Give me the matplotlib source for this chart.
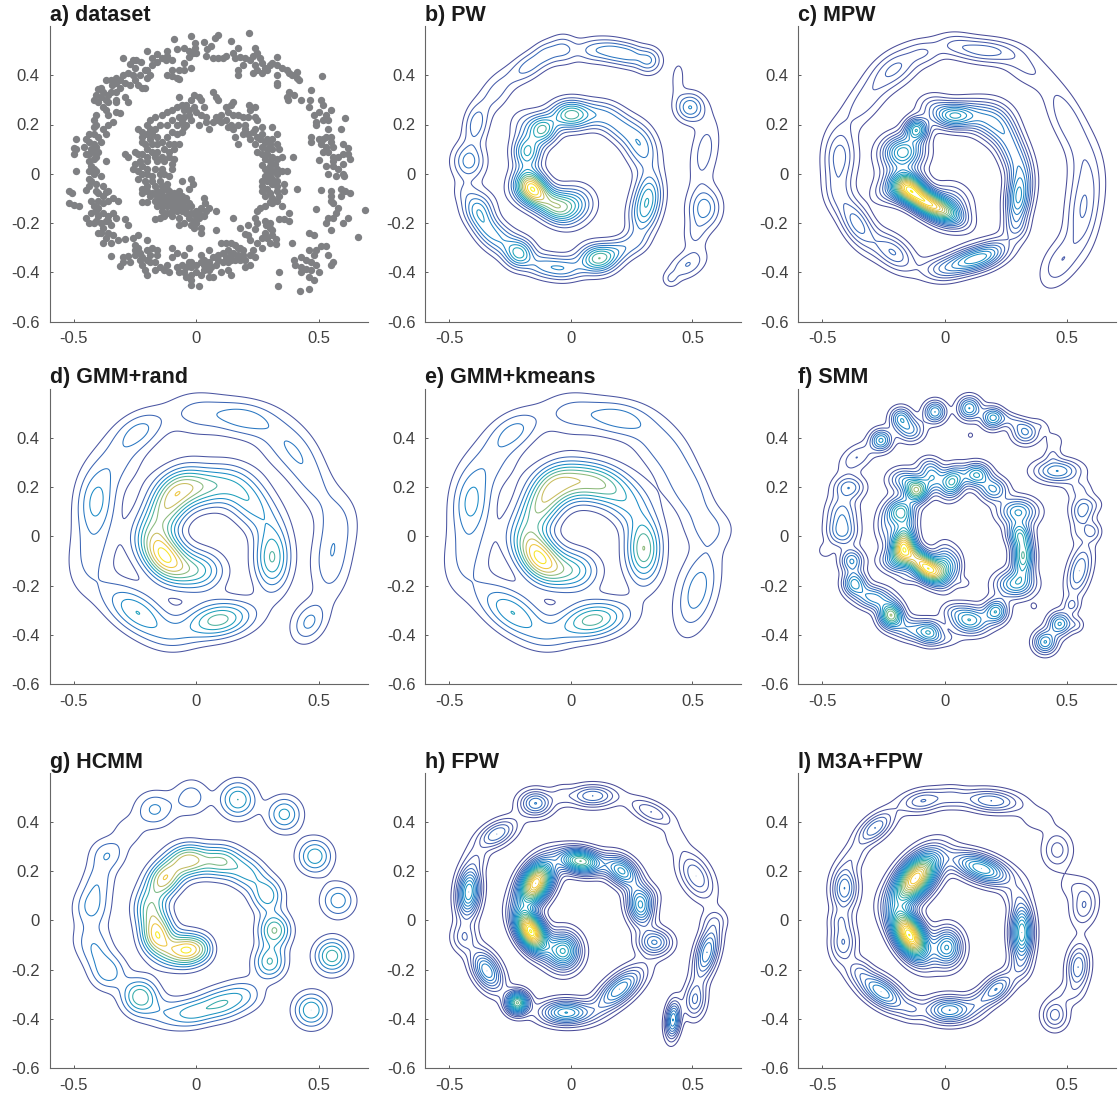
from matplotlib import pyplot as plt
from matplotlib.colors import LinearSegmentedColormap
import numpy as np

# points of panel a
dataset_xy = [
 (0.216,0.573),(0.089,0.564),(0.076,0.55),(-0.023,0.56),(-0.09,0.546),(0.14,0.539),(0.03,0.537),(0.06,0.52),(0.045,0.505),(-0.007,0.53),
 (-0.005,0.51),(-0.015,0.49),(-0.03,0.475),(-0.05,0.51),(-0.08,0.505),(-0.12,0.5),(-0.2,0.497),(-0.16,0.485),(-0.125,0.46),(-0.1,0.46),
 (-0.16,0.455),(-0.18,0.44),(-0.2,0.42),(-0.3,0.47),(-0.26,0.46),(-0.245,0.46),(-0.225,0.455),(-0.27,0.445),(-0.05,0.45),(-0.02,0.43),
 (-0.1,0.42),(-0.07,0.42),(-0.12,0.4),(-0.1,0.395),(-0.08,0.39),(-0.07,0.385),(-0.05,0.42),(0.09,0.47),(0.12,0.48),(0.15,0.49),
 (0.17,0.51),(0.16,0.47),(0.18,0.475),(0.22,0.46),(0.25,0.49),(0.24,0.51),(0.26,0.47),(0.33,0.475),(0.24,0.44),(0.25,0.42),
 (0.27,0.41),(0.23,0.41),(0.17,0.42),(0.17,0.4),(0.28,0.43),(0.3,0.44),(0.31,0.45),(0.33,0.44),(0.35,0.43),(0.33,0.4),
 (0.33,0.37),(0.33,0.36),(0.37,0.42),(0.38,0.41),(0.39,0.4),(0.41,0.415),(0.41,0.39),(0.42,0.38),(0.38,0.33),(0.37,0.31),
 (0.375,0.3),(0.4,0.32),(0.43,0.3),(0.47,0.34),(0.465,0.3),(0.51,0.3),(0.52,0.28),(0.46,0.27),(0.48,0.24),(0.5,0.25),
 (0.52,0.22),(0.53,0.24),(0.55,0.26),(0.54,0.22),(0.61,0.225),(0.49,0.21),(0.49,0.2),(0.515,0.395),(0.54,0.18),(0.59,0.18),
 (0.47,0.15),(0.5,0.14),(0.53,0.15),(0.55,0.15),(0.47,0.13),(0.51,0.12),(0.53,0.11),(0.56,0.11),(0.6,0.12),(0.62,0.105),
 (0.54,0.09),(0.56,0.07),(0.6,0.08),(0.62,0.08),(0.63,0.06),(0.5,0.055),(0.53,0.03),(0.56,0.03),(0.6,0.04),(0.58,0.02),
 (0.54,0.0),(0.57,-0.01),(0.6,0.0),(0.605,-0.01),(0.51,-0.065),(0.55,-0.07),(0.59,-0.06),(0.61,-0.07),(0.63,-0.08),(0.55,-0.09),
 (0.55,-0.11),(0.59,-0.09),(0.56,-0.12),(0.58,-0.14),(0.57,-0.16),(0.49,-0.145),(0.69,-0.146),(0.62,-0.18),(0.6,-0.2),(0.56,-0.18),
 (0.54,-0.18),(0.53,-0.2),(0.55,-0.23),(0.66,-0.255),(0.46,-0.24),(0.48,-0.25),(0.53,-0.295),(0.51,-0.295),(0.49,-0.31),(0.46,-0.31),
 (0.48,-0.33),(0.43,-0.34),(0.54,-0.33),(0.4,-0.35),(0.405,-0.37),(0.45,-0.35),(0.47,-0.36),(0.49,-0.37),(0.56,-0.36),(0.55,-0.37),
 (0.43,-0.38),(0.45,-0.385),(0.43,-0.4),(0.47,-0.39),(0.5,-0.4),(0.46,-0.42),(0.48,-0.43),(0.34,-0.4),(0.335,-0.455),(0.425,-0.475),
 (0.46,-0.47),(0.24,-0.18),(0.25,-0.2),(0.21,-0.21),(0.2,-0.245),(0.18,-0.22),(0.15,-0.18),(0.21,-0.25),(0.24,-0.225),(0.28,-0.19),
 (0.285,-0.21),(0.3,-0.2),(0.3,-0.22),(0.28,-0.24),(0.27,-0.26),(0.29,-0.26),(0.31,-0.25),(0.3,-0.28),(0.325,-0.285),(0.31,-0.23),
 (0.325,-0.265),(0.34,-0.185),(0.36,-0.185),(0.38,-0.19),(0.39,-0.28),(0.22,-0.27),(0.25,-0.28),(0.27,-0.3),(0.23,-0.31),(0.22,-0.33),
 (0.24,-0.34),(0.2,-0.35),(0.2,-0.38),(0.22,-0.37),(0.18,-0.3),(0.19,-0.31),(0.17,-0.3),(0.16,-0.29),(0.14,-0.28),(0.12,-0.28),
 (0.1,-0.28),(0.13,-0.31),(0.15,-0.32),(0.17,-0.33),(0.18,-0.35),(0.14,-0.33),(0.11,-0.32),(0.09,-0.33),(0.13,-0.36),(0.11,-0.36),
 (0.07,-0.34),(0.09,-0.35),(0.05,-0.36),(0.06,-0.38),(0.04,-0.37),(0.08,-0.37),(0.05,-0.39),(0.03,-0.35),(0.02,-0.33),(0.05,-0.31),
 (0.02,-0.36),(0.03,-0.39),(0.1,-0.4),(0.13,-0.39),(0.14,-0.41),(0.07,-0.42),(0.05,-0.42),(-0.03,-0.3),(-0.05,-0.33),(-0.1,-0.3),
 (-0.08,-0.32),(-0.03,-0.36),(-0.02,-0.38),(0.0,-0.37),(-0.02,-0.41),(0.0,-0.4),(0.02,-0.41),(-0.04,-0.38),(-0.06,-0.37),(-0.08,-0.38),
 (-0.05,-0.4),(-0.04,-0.42),(-0.02,-0.43),(-0.02,-0.45),(0.01,-0.455),(-0.1,-0.34),(-0.12,-0.37),(-0.11,-0.4),(-0.13,-0.39),(-0.15,-0.38),
 (-0.18,-0.3),(-0.2,-0.27),(-0.16,-0.31),(-0.16,-0.33),(-0.19,-0.33),(-0.2,-0.31),(-0.2,-0.35),(-0.19,-0.36),(-0.23,-0.35),(-0.22,-0.37),
 (-0.21,-0.39),(-0.2,-0.41),(-0.17,-0.39),(-0.25,-0.33),(-0.28,-0.335),(-0.3,-0.34),(-0.31,-0.375),(-0.3,-0.36),(-0.27,-0.36),(-0.35,-0.335),
 (-0.24,-0.25),(-0.26,-0.26),(-0.25,-0.29),(-0.25,-0.31),(-0.24,-0.3),(-0.29,-0.265),(-0.32,-0.27),(-0.34,-0.25),(-0.37,-0.26),(-0.35,-0.28),
 (-0.38,-0.28),(-0.4,-0.24),(-0.39,-0.24),(-0.29,-0.185),(-0.28,-0.21),(-0.36,-0.19),(-0.34,-0.16),(-0.36,-0.17),(-0.33,-0.18),(-0.35,-0.21),
 (-0.37,-0.19),(-0.39,-0.2),(-0.4,-0.17),(-0.43,-0.16),(-0.45,-0.18),(-0.44,-0.2),(-0.42,-0.2),(-0.4,-0.14),(-0.41,-0.15),(-0.38,-0.12),
 (-0.36,-0.11),(-0.32,-0.11),(-0.34,-0.1),(-0.4,-0.11),(-0.43,-0.11),(-0.37,-0.075),(-0.36,-0.07),(-0.38,-0.09),(-0.41,-0.07),(-0.41,-0.04),
 (-0.43,-0.03),(-0.44,-0.05),(-0.45,-0.065),(-0.52,-0.07),(-0.51,-0.08),(-0.52,-0.12),(-0.5,-0.125),(-0.48,-0.13),(-0.44,-0.02),(-0.42,0.0),
 (-0.44,0.01),(-0.43,0.03),(-0.41,0.01),(-0.39,-0.01),(-0.44,0.05),(-0.42,0.06),(-0.41,0.07),(-0.4,0.09),(-0.42,0.09),(-0.45,0.08),
 (-0.49,0.01),(-0.5,0.08),(-0.49,0.1),(-0.46,0.11),(-0.44,0.13),(-0.45,0.14),(-0.43,0.1),(-0.5,0.105),(-0.49,0.14),(-0.44,0.16),
 (-0.42,0.16),(-0.39,0.13),(-0.37,0.05),(-0.4,0.15),(-0.37,0.16),(-0.42,0.19),(-0.41,0.2),(-0.38,0.18),(-0.36,0.2),(-0.34,0.21),
 (-0.36,0.24),(-0.33,0.25),(-0.31,0.245),(-0.41,0.24),(-0.42,0.22),(-0.38,0.27),(-0.37,0.26),(-0.4,0.29),(-0.42,0.3),(-0.41,0.32),
 (-0.39,0.31),(-0.38,0.33),(-0.33,0.3),(-0.33,0.29),(-0.36,0.29),(-0.29,0.31),(-0.28,0.29),(-0.4,0.345),(-0.39,0.35),(-0.35,0.38),
 (-0.37,0.38),(-0.345,0.36),(-0.33,0.39),(-0.33,0.37),(-0.31,0.38),(-0.3,0.4),(-0.29,0.37),(-0.27,0.36),(-0.28,0.41),(-0.26,0.4),
 (-0.25,0.38),(-0.24,0.36),(-0.22,0.35),(-0.21,0.35),(-0.2,0.39),(-0.21,0.42),(-0.19,0.4),(-0.24,0.18),(-0.2,0.2),(-0.19,0.22),
 (-0.17,0.23),(-0.14,0.24),(-0.12,0.25),(-0.12,0.2),(-0.1,0.26),(-0.08,0.27),(-0.07,0.31),(-0.06,0.28),(-0.05,0.26),(-0.04,0.28),
 (-0.02,0.3),(-0.01,0.32),(0.01,0.31),(0.02,0.3),(-0.01,0.27),(0.0,0.25),(0.02,0.24),(0.03,0.27),(0.04,0.23),(-0.03,0.24),
 (-0.05,0.23),(-0.07,0.23),(-0.06,0.21),(-0.08,0.2),(-0.05,0.19),(-0.06,0.17),(-0.04,0.2),(-0.02,0.22),(0.01,0.2),(-0.1,0.17),
 (-0.08,0.16),(0.05,0.18),(0.07,0.21),(0.08,0.23),(0.09,0.22),(0.1,0.24),(0.07,0.33),(0.08,0.31),(0.09,0.3),(0.12,0.27),
 (0.13,0.25),(0.14,0.28),(0.15,0.29),(0.15,0.24),(0.17,0.24),(0.19,0.23),(0.13,0.19),(0.15,0.18),(0.16,0.15),(0.14,0.2),
 (0.17,0.2),(0.2,0.2),(0.21,0.23),(0.22,0.26),(0.215,0.28),(0.24,0.27),(0.24,0.23),(0.25,0.22),(0.2,0.18),(0.21,0.16),
 (0.23,0.17),(0.24,0.18),(0.22,0.14),(0.17,0.12),(0.24,0.12),(0.26,0.14),(0.27,0.11),(0.28,0.13),(0.25,0.09),(0.27,0.08),
 (0.29,0.1),(0.3,0.12),(0.31,0.1),(0.33,0.12),(0.34,0.1),(0.33,0.16),(0.31,0.19),(0.27,0.19),(0.29,0.08),(0.31,0.07),
 (0.33,0.06),(0.28,0.06),(0.35,0.07),(0.395,0.07),(0.27,0.035),(0.3,0.03),(0.31,0.01),(0.33,0.02),(0.35,0.01),(0.37,0.01),
 (0.29,0.01),(0.28,-0.01),(0.3,-0.01),(0.33,0.0),(0.29,-0.03),(0.31,-0.04),(0.27,-0.05),(0.29,-0.06),(0.33,-0.05),(0.36,-0.04),
 (0.27,-0.07),(0.3,-0.08),(0.33,-0.07),(0.36,-0.07),(0.41,-0.06),(0.31,-0.1),(0.34,-0.09),(0.33,-0.11),(0.3,-0.115),(0.28,-0.13),
 (0.26,-0.14),(0.25,-0.15),(0.31,-0.12),(0.35,-0.13),(0.38,-0.16),(-0.22,0.17),(-0.2,0.16),(-0.22,0.15),(-0.19,0.18),(-0.18,0.16),
 (-0.16,0.15),(-0.19,0.14),(-0.22,0.13),(-0.21,0.12),(-0.18,0.12),(-0.16,0.12),(-0.14,0.13),(-0.12,0.15),(-0.11,0.12),(-0.09,0.12),
 (-0.07,0.12),(-0.2,0.1),(-0.18,0.09),(-0.16,0.09),(-0.13,0.1),(-0.11,0.09),(-0.09,0.1),(-0.22,0.08),(-0.25,0.09),(-0.29,0.08),
 (-0.28,0.07),(-0.24,0.08),(-0.2,0.07),(-0.17,0.07),(-0.14,0.07),(-0.11,0.07),(-0.09,0.06),(-0.1,0.04),(-0.13,0.05),(-0.16,0.05),
 (-0.2,0.05),(-0.23,0.05),(-0.25,0.04),(-0.1,0.02),(-0.14,0.02),(-0.17,0.02),(-0.2,0.02),(-0.22,0.03),(-0.26,0.02),(-0.24,0.01),
 (-0.22,0.0),(-0.2,0.0),(-0.18,-0.01),(-0.15,0.0),(-0.13,0.0),(-0.11,-0.01),(-0.24,-0.02),(-0.21,-0.03),(-0.18,-0.03),(-0.15,-0.03),
 (-0.12,-0.04),(-0.2,-0.05),(-0.17,-0.05),(-0.14,-0.05),(-0.12,-0.06),(-0.22,-0.06),(-0.2,-0.07),(-0.18,-0.08),(-0.16,-0.07),(-0.14,-0.07),
 (-0.11,-0.07),(-0.09,-0.08),(-0.07,-0.07),(-0.22,-0.08),(-0.19,-0.09),(-0.16,-0.09),(-0.14,-0.09),(-0.12,-0.09),(-0.1,-0.09),(-0.08,-0.09),
 (-0.06,-0.09),(-0.04,-0.1),(-0.2,-0.115),(-0.22,-0.115),(-0.17,-0.11),(-0.15,-0.11),(-0.13,-0.11),(-0.11,-0.11),(-0.09,-0.11),(-0.07,-0.11),
 (-0.05,-0.11),(-0.03,-0.12),(-0.16,-0.13),(-0.14,-0.13),(-0.12,-0.13),(-0.1,-0.13),(-0.08,-0.13),(-0.06,-0.13),(-0.04,-0.14),(-0.02,-0.13),
 (-0.14,-0.15),(-0.12,-0.16),(-0.1,-0.15),(-0.08,-0.15),(-0.06,-0.15),(-0.04,-0.16),(-0.02,-0.16),(0.0,-0.17),(-0.17,-0.185),(-0.15,-0.18),
 (-0.13,-0.17),(-0.1,-0.17),(-0.07,-0.18),(-0.03,-0.18),(-0.01,-0.19),(0.01,-0.18),(-0.07,-0.21),(-0.05,-0.2),(-0.02,-0.21),(-0.01,-0.22),
 (0.0,-0.2),(0.02,-0.24),(0.02,-0.22),(0.08,-0.23),(-0.06,-0.03),(-0.02,-0.02),(-0.015,-0.04),(-0.03,-0.06),(0.03,-0.1),(0.035,-0.12),
 (0.05,-0.14),(0.08,-0.15),(0.04,-0.15),(0.02,-0.14),(0.0,-0.15),(0.03,-0.17),(0.01,-0.16),
 (-0.33,0.33),(-0.31,0.35),(-0.36,0.32),(-0.25,0.43),(-0.23,0.4),(-0.18,0.47),(-0.14,0.47),(-0.12,0.48),(-0.03,0.5),(0.0,0.49),
 (0.04,0.48),(0.07,0.47),(0.11,0.47),(0.2,0.47),(0.23,0.48),(0.27,0.45),(0.29,0.42),(0.19,0.44),(0.52,0.14),(0.55,0.13),
 (0.56,0.05),(0.52,0.09),(0.58,0.07),(-0.03,0.26),(-0.1,0.22),(-0.15,0.2),(-0.17,0.18),(0.04,0.21),(0.1,0.21),(0.12,0.22),
 (0.19,0.16),(0.27,0.16),(0.29,0.14),(0.31,0.14),(0.25,0.15),(0.3,0.05),(0.32,0.04),(0.28,0.02),(0.31,-0.02),(0.33,-0.03),
 (0.27,-0.03),(0.28,-0.09),(0.14,-0.35),(0.16,-0.35),(0.19,-0.33),(0.12,-0.34),(0.03,-0.37),(-0.02,-0.36),(-0.07,-0.4),(-0.17,-0.36),
 (-0.23,-0.32),(-0.22,-0.34),(-0.38,-0.16),(-0.38,-0.22),(-0.36,-0.24),(-0.41,-0.19),(-0.42,-0.13),(-0.4,-0.08),(-0.38,-0.05),(-0.42,0.02),
 (-0.42,0.12),(-0.41,0.11),(-0.44,0.08),(-0.37,0.3),(-0.35,0.33),
]

# gaussian bumps estimated from each contour panel: x, y, long sigma, short sigma, angle, height
pw_bumps = [
 (0.03,-0.12,.045,.045,0,3.5),(-0.03,-0.13,.045,.04,0,4.5),(-0.09,-0.12,.06,.035,-40,6),(-0.16,-0.055,.045,.035,-60,10),
 (-0.2,-0.06,.04,.04,90,2.5),(-0.18,0.09,.04,.035,90,7),(-0.115,0.18,.035,.035,0,7.5),(-0.19,0.2,.04,.04,0,2),(-0.03,0.24,.04,.035,0,4.5),(0.02,0.24,.04,.035,0,5),
 (0.11,0.24,.05,.035,0,3.5),(0.2,0.19,.05,.035,-40,3.5),(0.29,0.11,.06,.04,-70,4.5),(0.32,-0.09,.06,.035,85,6),(0.29,-0.18,.05,.035,90,3.5),
 (0.18,0.495,.05,.03,-10,4.5),(0.32,0.46,.032,.032,0,4),(0.25,0.48,.03,.03,0,2),(0.08,0.5,.04,.03,0,2.5),(-0.03,0.505,.035,.035,0,3),
 (-0.17,0.44,.06,.03,35,3.5),(-0.1,0.49,.03,.03,0,1.5),(-0.31,0.33,.06,.035,55,2.3),(-0.39,0.2,.05,.03,80,3.5),(-0.42,0.05,.045,.04,90,4.5),
 (-0.44,-0.07,.03,.03,0,1.2),(-0.38,-0.13,.04,.04,60,3),(-0.36,-0.2,.06,.033,-60,4.5),(-0.28,-0.27,.05,.035,-40,3.5),(-0.21,-0.325,.035,.035,0,6.5),
 (-0.12,-0.37,.04,.03,0,3),(-0.03,-0.385,.05,.03,0,4.5),(0.11,-0.345,.045,.035,0,8),(0.2,-0.31,.05,.03,20,3.5),(0.27,-0.27,.03,.03,0,1.5),
 (0.49,0.27,.035,.035,0,5),(0.44,0.39,.05,.02,85,1.4),(0.55,0.09,.09,.035,80,2.5),(0.55,-0.14,.05,.04,85,4.5),(0.51,-0.25,.04,.03,80,1.8),
 (0.48,-0.37,.05,.03,30,3),(0.41,-0.43,.02,.02,0,1.5),
]
mpw_bumps = [
 (-0.16,-0.05,.04,.035,0,12),(-0.05,-0.13,.07,.028,-28,14),(-0.11,-0.09,.05,.03,-40,8),(-0.115,0.18,.028,.028,0,10),(-0.17,0.09,.05,.04,0,10),
 (-0.2,0.01,.05,.05,0,2),(-0.25,-0.08,.035,.03,0,2),(0.03,0.235,.05,.03,0,8),(0.13,0.24,.07,.04,0,4.5),(-0.05,0.28,.04,.03,0,2.5),
 (0.3,-0.1,.07,.03,85,9),(0.28,0.09,.08,.035,-70,6),(0.2,0.19,.05,.04,-40,4),(0.02,-0.13,.05,.05,0,5),(0.29,-0.22,.03,.03,0,2),
 (0.11,-0.35,.07,.03,15,9),(-0.02,-0.39,.05,.03,0,3),(0.2,-0.31,.05,.03,30,3),(-0.21,-0.32,.06,.035,-40,5),(-0.36,-0.2,.07,.035,-60,5.5),
 (-0.43,0.07,.07,.04,88,4.5),(-0.44,-0.07,.05,.035,90,2),(-0.33,0.29,.08,.04,50,2.5),(-0.2,0.43,.07,.04,35,4),(-0.08,0.49,.04,.03,0,2),
 (0.16,0.5,.08,.03,-5,4.5),(0.03,0.53,.05,.03,0,1.8),(0.33,0.43,.07,.04,-35,2),(0.5,0.22,.1,.04,-65,2.8),(0.58,0.0,.09,.045,-85,2.2),
 (0.56,-0.17,.09,.04,85,3.5),(0.47,-0.36,.07,.04,60,2.8),
]
rand_bumps = [
 (-0.14,-0.07,.07,.05,-55,8.5),(-0.08,-0.12,.06,.05,-30,2.5),(-0.12,0.12,.09,.05,58,7),(0.02,0.2,.09,.05,5,6),(0.22,0.14,.09,.052,-50,4.5),
 (0.31,-0.09,.08,.045,90,6),(0.02,-0.14,.06,.05,0,4.5),(0.09,-0.34,.09,.045,10,6.5),(-0.24,-0.31,.1,.05,-35,5),(-0.41,0.14,.08,.05,85,3.8),
 (-0.43,-0.07,.1,.06,80,2.2),(-0.33,0.3,.08,.06,50,2.2),(-0.23,0.43,.07,.045,30,3),(0.19,0.48,.08,.045,-8,3.2),(0.0,0.5,.08,.055,0,2.2),
 (0.36,0.38,.09,.06,-40,2.2),(0.47,0.23,.11,.05,-60,2.2),(0.55,-0.1,.1,.05,85,2.7),(0.46,-0.35,.055,.04,60,3.2),(0.59,0.06,.08,.055,85,1.2),
 (-0.08,-0.41,.06,.035,0,1),
]
kmeans_bumps = [
 (-0.14,-0.075,.07,.048,-55,8.5),(-0.08,-0.12,.06,.05,-30,2.5),(-0.12,0.13,.09,.05,58,7),(0.0,0.22,.08,.05,5,5.5),(0.15,0.2,.08,.05,-20,5.5),
 (0.24,0.11,.05,.05,-50,2),(0.3,-0.05,.085,.045,90,7),(0.02,-0.14,.06,.05,0,4.5),(0.09,-0.34,.09,.045,10,6.5),(-0.24,-0.31,.1,.05,-35,5),
 (-0.41,0.14,.08,.05,85,3.8),(-0.43,-0.07,.1,.06,80,2.2),(-0.33,0.3,.08,.06,50,2.2),(-0.23,0.43,.07,.045,30,3),(0.19,0.48,.08,.045,-8,3.2),
 (0.0,0.5,.08,.055,0,2.2),(0.36,0.38,.09,.06,-40,2.2),(0.48,0.19,.1,.05,-60,2.8),(0.52,-0.22,.11,.05,75,3.6),(0.57,0.03,.07,.05,0,1.4),
 (-0.08,-0.41,.06,.035,0,1),
]
smm_bumps = [
 (-0.04,0.505,.028,.028,0,7),(0.1,0.52,.03,.03,0,7),(0.195,0.48,.028,.028,0,7),(0.33,0.42,.035,.03,0,5),(0.27,0.47,.04,.02,-20,2.5),(0.45,0.385,.025,.025,0,1.6),(0.44,0.33,.02,.02,0,1.5),(0.4,0.45,.025,.015,-40,1.2),
 (0.46,0.265,.06,.03,0,6),(0.105,0.41,.012,.012,0,1.2),(0.365,-0.285,.012,.012,0,1.2),(-0.18,0.48,.028,.028,0,6),(-0.14,0.43,.035,.03,0,5),
 (-0.26,0.39,.028,.028,0,7),(-0.36,0.32,.05,.03,35,3),(-0.39,0.2,.04,.03,0,4.5),(-0.42,0.09,.05,.04,90,4.5),(-0.42,0.01,.04,.035,0,4),(-0.49,-0.06,.02,.02,0,1.5),
 (-0.38,-0.1,.03,.03,0,6),(-0.37,-0.19,.03,.03,0,7),(-0.29,-0.25,.05,.03,-10,6.5),(-0.22,-0.32,.03,.03,0,11),(-0.13,-0.38,.06,.03,-10,5),(-0.06,-0.39,.03,.03,0,5),
 (0.0,-0.42,.04,.02,0,1.7),(0.1,-0.34,.05,.035,-10,8),(0.03,-0.3,.03,.02,0,1.5),(0.21,-0.305,.03,.03,0,7.5),
 (0.55,0.19,.035,.025,0,2),(0.58,0.13,.04,.025,0,2.5),(0.56,0.09,.03,.03,0,3.5),(0.6,0.02,.025,.025,0,3),(0.54,0.02,.03,.02,90,1.5),(0.55,-0.14,.07,.03,75,5),(0.52,-0.28,.02,.02,0,2.5),
 (0.47,-0.355,.03,.03,0,7),(0.41,-0.43,.03,.03,0,7),(0.54,-0.36,.02,.02,0,2),
 (-0.115,0.185,.03,.03,0,11),(-0.18,0.1,.035,.035,0,9),(-0.17,-0.03,.05,.03,80,12),(-0.12,-0.09,.05,.03,-40,10),(-0.06,-0.14,.04,.03,-40,12),
 (0.0,-0.12,.05,.03,90,7),(0.05,-0.12,.04,.02,90,2),(-0.05,0.24,.035,.03,90,6),(0.03,0.22,.04,.03,70,9),(0.13,0.25,.035,.03,0,8),(0.2,0.19,.035,.03,0,6),
 (0.3,0.1,.05,.035,0,7),(0.3,0.01,.03,.03,90,6),(0.32,-0.08,.055,.028,90,10),(0.285,-0.195,.05,.035,0,7),(-0.17,0.23,.04,.03,0,5),(-0.24,0.04,.05,.03,90,3),
 (-0.21,-0.1,.04,.03,0,4),(-0.15,-0.17,.03,.02,0,1.5),(0.08,-0.19,.02,.015,0,1.3),(-0.07,0.29,.03,.025,0,2),
]
hcmm_bumps = [
 (0.555,-0.145,.043,.043,0,5.6),(0.47,-0.365,.043,.043,0,5),(0.58,0.08,.043,.043,0,3.6),(0.485,0.26,.043,.043,0,4.8),(0.36,0.43,.043,.043,0,4.4),
 (0.17,0.49,.045,.045,0,5),(-0.02,0.5,.045,.045,0,2.6),(-0.17,0.45,.05,.045,0,3.2),(-0.28,0.36,.04,.04,0,1.6),(-0.36,0.27,.045,.04,0,2.6),(-0.4,0.16,.055,.04,80,2.4),
 (-0.43,0.05,.05,.045,90,3),(-0.43,-0.08,.05,.045,0,2),(-0.41,-0.14,.04,.04,0,1.5),(-0.36,-0.21,.045,.045,0,3.6),(-0.23,-0.31,.045,.045,0,5.8),(-0.11,-0.38,.06,.04,0,2.5),(0.1,-0.34,.06,.04,10,4.5),(-0.01,-0.375,.05,.035,10,3),
 (0.2,-0.3,.05,.04,0,2.4),(0.3,-0.17,.042,.04,90,5),(0.32,-0.04,.042,.04,90,6),(0.29,0.1,.042,.04,90,4.5),(0.21,0.19,.05,.04,-30,4),(0.1,0.24,.05,.04,0,5.5),
 (-0.03,0.245,.05,.04,0,7),(-0.13,0.17,.05,.04,50,7.5),(-0.19,0.05,.05,.04,90,5),(-0.16,-0.06,.05,.04,90,8),(-0.1,-0.13,.04,.04,0,4),(-0.03,-0.12,.04,.04,0,7.5),
 (0.03,-0.115,.03,.035,0,2.5),
]
fpw_bumps = [
 (-0.145,0.15,.065,.04,60,22),(-0.165,-0.045,.06,.035,-60,24),(-0.03,-0.125,.05,.045,90,12),(0.04,0.24,.06,.033,-10,15),(0.21,0.2,.05,.035,-40,10),
 (0.285,0.06,.055,.035,-80,10),(0.345,-0.09,.045,.035,0,7),(0.2,-0.28,.08,.035,40,9),(-0.02,-0.375,.07,.033,0,10),(-0.22,-0.335,.03,.03,0,15),
 (-0.345,-0.205,.06,.035,-60,9),(-0.44,-0.07,.04,.035,90,3.5),(-0.42,0.115,.07,.032,85,11),(-0.305,0.35,.06,.032,30,6),(-0.145,0.475,.045,.035,0,7),
 (0.09,0.505,.065,.03,0,6),(0.33,0.44,.065,.028,-25,4),(0.515,0.18,.07,.04,-60,5),(0.56,-0.13,.075,.03,75,8),(0.51,-0.325,.05,.03,85,5),
 (0.42,-0.405,.05,.02,85,9),(0.43,0.33,.04,.03,-50,1.5),(-0.04,0.51,.03,.03,0,1.5),(0.59,0.0,.04,.03,0,1.5),(0.33,0.1,.03,.03,0,1.5),(-0.38,0.25,.03,.03,0,1.5),
]
m3a_bumps = [
 (-0.12,0.17,.08,.043,50,22),(-0.145,-0.06,.07,.038,-60,24),(0.01,-0.11,.05,.04,90,10),(0.15,0.21,.08,.035,-20,11),(0.315,-0.05,.08,.03,90,12),
 (0.21,-0.28,.055,.03,40,7),(0.02,-0.365,.065,.035,0,9),(-0.26,-0.29,.075,.035,-35,9),(-0.415,-0.09,.055,.035,90,5),(-0.41,0.13,.06,.035,88,7),
 (-0.285,0.375,.06,.03,40,6),(-0.09,0.485,.06,.03,10,5),(0.19,0.485,.08,.03,-5,6),(0.46,0.285,.05,.04,90,3.5),(0.57,0.06,.055,.035,80,4),
 (0.545,-0.19,.06,.03,85,6),(0.45,-0.385,.04,.035,90,4.5),(0.38,0.41,.05,.035,0,1.6),(0.52,0.14,.04,.035,0,1.5),(0.5,-0.3,.04,.03,0,1.5),
 (-0.37,0.26,.04,.03,50,2),(0.03,0.5,.04,.03,0,2),(-0.43,0.0,.03,.03,0,2),(-0.35,-0.2,.03,.03,0,2),(-0.13,-0.36,.03,.03,0,2),(0.13,-0.33,.03,.03,0,1.5),(0.3,-0.19,.03,.03,0,1.5),(0.28,0.1,.03,.03,0,1.5),
]

panel_titles = ['a) dataset', 'b) PW', 'c) MPW', 'd) GMM+rand', 'e) GMM+kmeans', 'f) SMM', 'g) HCMM', 'h) FPW', 'l) M3A+FPW']
panel_bumps = [None, pw_bumps, mpw_bumps, rand_bumps, kmeans_bumps, smm_bumps, hcmm_bumps, fpw_bumps, m3a_bumps]
panel_widen = [1, 1.14, 1.14, 1.12, 1.12, 1.08, 1.12, 1.03, 1.05]
x_ticks = [-0.5, 0, 0.5]
x_tick_labels = ['-0.5', '0', '0.5']
y_ticks = [-0.6, -0.4, -0.2, 0, 0.2, 0.4]
y_tick_labels = ['-0.6', '-0.4', '-0.2', '0', '0.2', '0.4']
parula_colors = ['#4a4491', '#4a5aa8', '#2f6fc0', '#1a8ac8', '#1ea5b8', '#6fb98a', '#c2bc62', '#f5c83a', '#f9f51a']

plt.rcParams['font.family'] = ['Liberation Sans', 'DejaVu Sans']
parula = LinearSegmentedColormap.from_list('parula', parula_colors)


def density(bumps, widen, X, Y):
    Z = np.zeros_like(X)
    for x, y, sa, sb, angle, height in bumps:
        t = np.radians(angle)
        u = (X - x) * np.cos(t) + (Y - y) * np.sin(t)
        v = -(X - x) * np.sin(t) + (Y - y) * np.cos(t)
        Z += height * np.exp(-0.5 * ((u / (sa * widen)) ** 2 + (v / (sb * widen)) ** 2))
    return Z


W, H = 1119, 1099
fig = plt.figure(figsize=(W / 100, H / 100), dpi=100)
lefts = [49.5, 425, 798]
rights = [367.5, 741, 1116]
bottoms = [321.5, 684, 1068]
xs = np.linspace(-0.6, 0.7, 521)
ys = np.linspace(-0.6, 0.6, 481)
X, Y = np.meshgrid(xs, ys)

for i in range(9):
    row, col = divmod(i, 3)
    bottom = bottoms[row]
    ax = fig.add_axes([lefts[col] / W, 1 - bottom / H, (rights[col] - lefts[col]) / W, 295.5 / H])
    if panel_bumps[i] is None:
        pts = np.array(dataset_xy)
        ax.scatter(pts[:, 0], pts[:, 1], s=28, color='#7f8083', linewidths=0, clip_on=False)
    else:
        Z = density(panel_bumps[i], panel_widen[i], X, Y)
        levels = np.arange(1, Z.max(), 1.0)
        ax.contour(X, Y, Z, levels=levels, cmap=parula, vmin=0, vmax=Z.max(), linewidths=0.75)
    ax.set_xlim(-0.6, 0.7)
    ax.set_ylim(-0.6, 0.6)
    ax.set_xticks(x_ticks, x_tick_labels)
    ax.set_yticks(y_ticks, y_tick_labels)
    ax.tick_params(direction='in', length=2, width=0.6, color='#404040', labelcolor='#404040', labelsize=12, pad=7)
    ax.spines['top'].set_visible(False)
    ax.spines['right'].set_visible(False)
    ax.spines['left'].set_color('#666666')
    ax.spines['bottom'].set_color('#666666')
    ax.text(0, 1 + 5 / 295.5, panel_titles[i], transform=ax.transAxes, fontsize=15.5, fontweight='bold', color='#1a1a1a', ha='left', va='baseline')

fig.savefig('out.png', dpi=100)
